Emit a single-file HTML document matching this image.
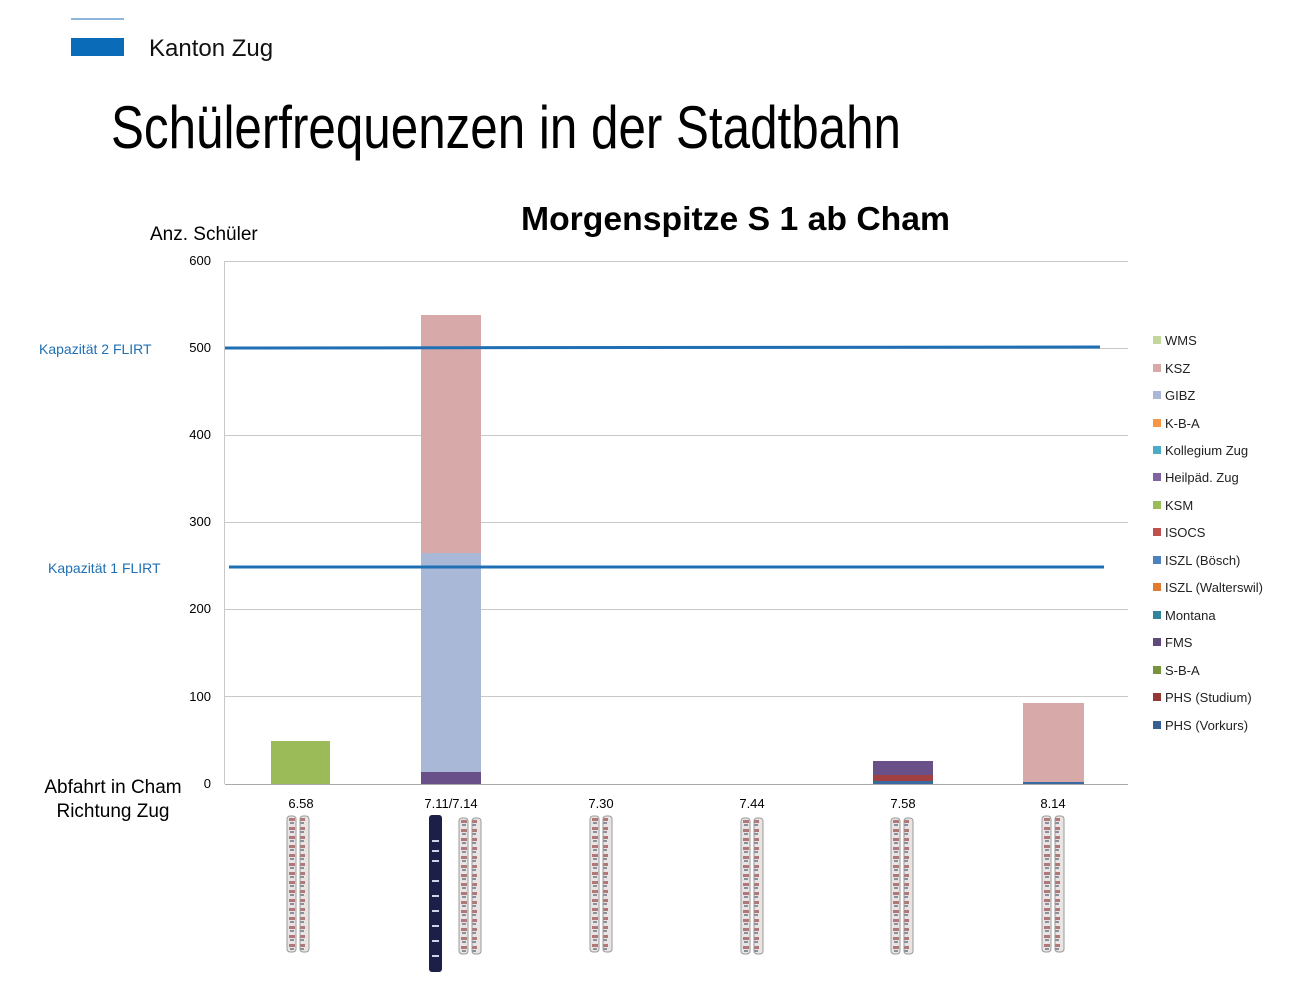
<!DOCTYPE html>
<html><head><meta charset="utf-8"><style>
body{margin:0;background:#fff;width:1298px;height:984px;overflow:hidden}
svg{display:block}
text{font-family:"Liberation Sans",sans-serif}
</style></head><body>
<svg width="1298" height="984" xmlns="http://www.w3.org/2000/svg">
<defs>
<pattern id="tr" width="10" height="9" patternUnits="userSpaceOnUse">
<rect width="10" height="9" fill="#e8e4e4"/><rect x="2" y="2" width="6" height="3" fill="#b07878"/><rect x="3" y="6" width="4" height="2" fill="#8a8f99"/>
</pattern>
<g id="pair"><rect x="0" y="0" width="9" height="136" rx="3" fill="url(#tr)" stroke="#999" stroke-width="1"/><rect x="13" y="0" width="9" height="136" rx="3" fill="url(#tr)" stroke="#999" stroke-width="1"/></g>
</defs>
<line x1="71" y1="19" x2="124" y2="19" stroke="#1a6eb8" stroke-width="1"/>
<rect x="71" y="38" width="53" height="18" fill="#0a6cb8"/>
<text x="149" y="56" font-size="24" fill="#111">Kanton Zug</text>
<text x="111" y="148" font-size="60" fill="#000" textLength="790" lengthAdjust="spacingAndGlyphs">Schülerfrequenzen in der Stadtbahn</text>
<text x="521" y="230" font-size="33" font-weight="bold" fill="#000" textLength="429" lengthAdjust="spacingAndGlyphs">Morgenspitze S 1 ab Cham</text>
<text x="150" y="240" font-size="19" fill="#000">Anz. Schüler</text>
<g stroke="#c8c8c8" stroke-width="1">
<line x1="225" y1="261.5" x2="1128" y2="261.5"/><line x1="225" y1="348.5" x2="1128" y2="348.5"/><line x1="225" y1="435.5" x2="1128" y2="435.5"/><line x1="225" y1="522.5" x2="1128" y2="522.5"/><line x1="225" y1="609.5" x2="1128" y2="609.5"/><line x1="225" y1="696.5" x2="1128" y2="696.5"/><line x1="224.5" y1="261" x2="224.5" y2="784"/>
</g>
<line x1="225" y1="784.5" x2="1128" y2="784.5" stroke="#aaa"/>
<g font-size="13" fill="#000" text-anchor="end">
<text x="211" y="265">600</text><text x="211" y="352">500</text><text x="211" y="439">400</text><text x="211" y="526">300</text><text x="211" y="613">200</text><text x="211" y="701">100</text><text x="211" y="788">0</text>
</g>
<rect x="271" y="741" width="59" height="43" fill="#9bbb59"/>
<rect x="421" y="315" width="60" height="238" fill="#d8a9a9"/>
<rect x="421" y="553" width="60" height="219" fill="#a9b8d6"/>
<rect x="421" y="772" width="60" height="12" fill="#6a5088"/>
<rect x="873" y="761" width="60" height="14" fill="#6a5088"/>
<rect x="873" y="775" width="60" height="6" fill="#a04040"/>
<rect x="873" y="781" width="60" height="3" fill="#3a68a0"/>
<rect x="1023" y="703" width="61" height="79" fill="#d8a9a9"/>
<rect x="1023" y="782" width="61" height="2" fill="#3a68a0"/>
<line x1="225" y1="348" x2="1100" y2="347" stroke="#1f6fb4" stroke-width="3"/>
<line x1="229" y1="567" x2="1104" y2="567" stroke="#1f6fb4" stroke-width="3"/>
<text x="39" y="354" font-size="14" fill="#1f6fb4">Kapazität 2 FLIRT</text>
<text x="48" y="573" font-size="14" fill="#1f6fb4">Kapazität 1 FLIRT</text>
<text x="113" y="793" font-size="19" text-anchor="middle">Abfahrt in Cham</text>
<text x="113" y="817" font-size="19" text-anchor="middle">Richtung Zug</text>
<g font-size="13" text-anchor="middle">
<text x="301" y="808">6.58</text><text x="451" y="808">7.11/7.14</text><text x="601" y="808">7.30</text><text x="752" y="808">7.44</text><text x="903" y="808">7.58</text><text x="1053" y="808">8.14</text>
</g>
<use href="#pair" x="287" y="816"/>
<use href="#pair" x="459" y="818"/>
<rect x="429" y="815" width="13" height="157" rx="3" fill="#1c2048"/>
<g fill="#d0d4e8"><rect x="432" y="840" width="7" height="2"/><rect x="432" y="850" width="7" height="2"/><rect x="432" y="860" width="7" height="2"/><rect x="432" y="880" width="7" height="2"/><rect x="432" y="895" width="7" height="2"/><rect x="432" y="910" width="7" height="2"/><rect x="432" y="925" width="7" height="2"/><rect x="432" y="940" width="7" height="2"/><rect x="432" y="955" width="7" height="2"/></g>
<use href="#pair" x="590" y="816"/>
<use href="#pair" x="741" y="818"/>
<use href="#pair" x="891" y="818"/>
<use href="#pair" x="1042" y="816"/>
<g font-size="13" fill="#222">
<rect x="1153" y="336" width="8" height="8" fill="#c3d69b"/><text x="1165" y="345">WMS</text>
<rect x="1153" y="364" width="8" height="8" fill="#d8a9a9"/><text x="1165" y="373">KSZ</text>
<rect x="1153" y="391" width="8" height="8" fill="#a9b8d6"/><text x="1165" y="400">GIBZ</text>
<rect x="1153" y="419" width="8" height="8" fill="#f79646"/><text x="1165" y="428">K-B-A</text>
<rect x="1153" y="446" width="8" height="8" fill="#4bacc6"/><text x="1165" y="455">Kollegium Zug</text>
<rect x="1153" y="473" width="8" height="8" fill="#8064a2"/><text x="1165" y="482">Heilpäd. Zug</text>
<rect x="1153" y="501" width="8" height="8" fill="#9bbb59"/><text x="1165" y="510">KSM</text>
<rect x="1153" y="528" width="8" height="8" fill="#c0504d"/><text x="1165" y="537">ISOCS</text>
<rect x="1153" y="556" width="8" height="8" fill="#4f81bd"/><text x="1165" y="565">ISZL (Bösch)</text>
<rect x="1153" y="583" width="8" height="8" fill="#e07b30"/><text x="1165" y="592">ISZL (Walterswil)</text>
<rect x="1153" y="611" width="8" height="8" fill="#31849b"/><text x="1165" y="620">Montana</text>
<rect x="1153" y="638" width="8" height="8" fill="#604a7b"/><text x="1165" y="647">FMS</text>
<rect x="1153" y="666" width="8" height="8" fill="#77933c"/><text x="1165" y="675">S-B-A</text>
<rect x="1153" y="693" width="8" height="8" fill="#953735"/><text x="1165" y="702">PHS (Studium)</text>
<rect x="1153" y="721" width="8" height="8" fill="#376092"/><text x="1165" y="730">PHS (Vorkurs)</text>
</g>
</svg>
</body></html>
